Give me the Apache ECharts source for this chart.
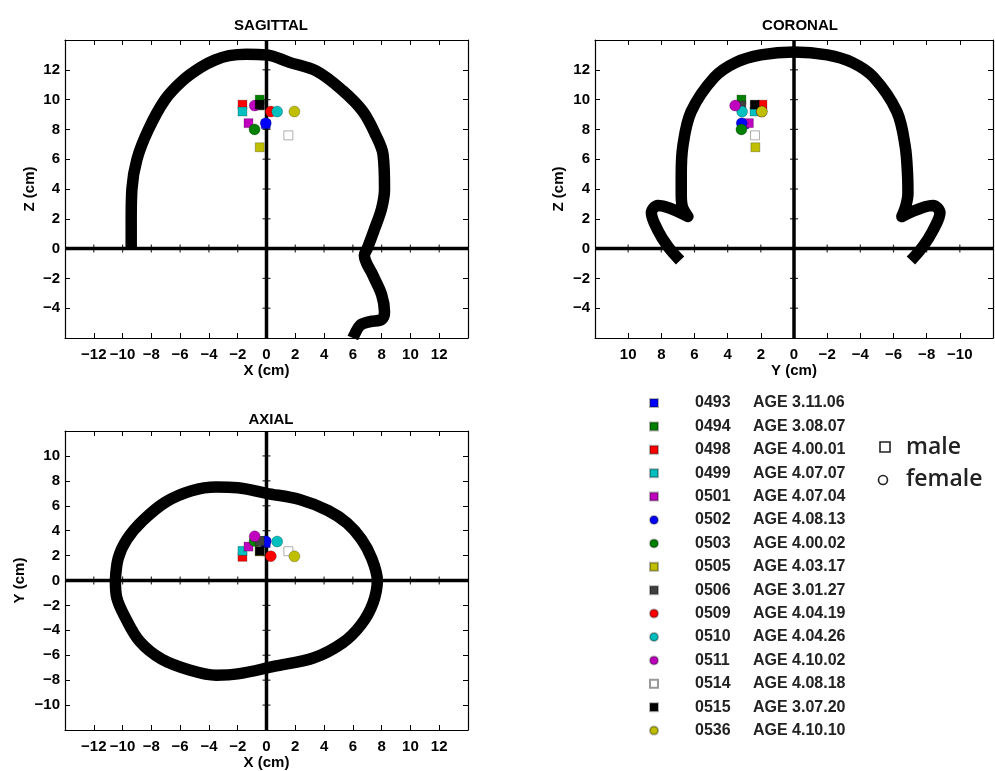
<!DOCTYPE html>
<html>
<head>
<meta charset="utf-8">
<script src="https://cdn.jsdelivr.net/npm/echarts@6/dist/echarts.min.js"></script>
<style>html,body{margin:0;padding:0;background:#fff}#c{width:995px;height:771px}</style>
</head>
<body>
<div id="c"></div>
<script>
// ---------------- DATA ----------------
const subjectIds  = ['0493','0494','0498','0499','0501','0502','0503','0505','0506','0509','0510','0511','0514','0515','0536'];
const subjectAges = ['3.11.06','3.08.07','4.00.01','4.07.07','4.07.04','4.08.13','4.00.02','4.03.17','3.01.27','4.04.19','4.04.26','4.10.02','4.08.18','3.07.20','4.10.10'];
const subjectSex  = ['male','male','male','male','male','female','female','male','male','female','female','female','male','male','female'];
// dipole locations (cm)
const dipoleX = [-0.05,-0.47,-1.67,-1.67,-1.25,-0.05,-0.83,-0.47,-0.47, 0.30, 0.74,-0.82, 1.52,-0.47, 1.94];
const dipoleY = [ 3.00, 3.17, 1.90, 2.38, 2.72, 3.15, 3.17, 2.33, 3.17, 1.95, 3.13, 3.55, 2.35, 2.37, 1.94];
const dipoleZ = [ 8.35,10.00, 9.66, 9.20, 8.42, 8.42, 8.00, 6.80, 9.60, 9.20, 9.20, 9.60, 7.60, 9.66, 9.20];

// head outlines (cm)
const sagittalOutline = [[-9.4,0],[-9.4,2],[-9.35,4],[-9.0,6],[-8.2,8],[-7.05,10],[-5.8,11.3],[-4.6,12.15],[-3.6,12.65],[-2.6,12.95],[-1.4,13.05],[0,13.0],[1.6,12.5],[3.5,11.9],[5.3,10.6],[6.7,9.2],[7.6,7.6],[8.1,6.3],[8.2,4],[8.0,2.7],[7.5,1.3],[7.0,0],[6.8,-0.45],[7.4,-1.8],[8.0,-3.1],[8.2,-4.25],[8.0,-4.75],[7.2,-4.9],[6.5,-5.15],[6.1,-5.8],[6.0,-6.0]];
const coronalOutline = [[6.87,-0.8],[7.6,0.13],[8.2,1.2],[8.6,2.4],[8.2,2.9],[6.4,2.15],[6.75,2.9],[6.8,3.7],[6.8,4.9],[6.7,6.9],[6.2,9.2],[4.8,11.5],[3.5,12.5],[2.0,13.0],[0,13.2],[-2.0,13.0],[-3.5,12.5],[-4.8,11.5],[-6.2,9.2],[-6.7,6.9],[-6.85,4.9],[-6.87,3.7],[-6.75,2.9],[-6.5,2.15],[-8.37,2.9],[-8.8,2.4],[-8.37,1.2],[-7.77,0.13],[-7.05,-0.8]];
const axialOutline = [[-10.5,0],[-10.3,1.8],[-9.7,3.3],[-8.6,4.8],[-7.0,6.3],[-5.2,7.2],[-3.5,7.5],[-2.0,7.45],[0,7.0],[2.3,6.5],[4.3,5.6],[5.6,4.6],[6.6,3.3],[7.3,1.8],[7.7,0],[7.4,-1.8],[6.6,-3.5],[5.3,-5.0],[3.3,-6.2],[0.5,-6.9],[-2.0,-7.5],[-3.5,-7.6],[-5.3,-7.2],[-7.3,-6.3],[-8.8,-4.9],[-9.8,-3.0],[-10.4,-1.4],[-10.5,0]];

// axis ranges and tick step
const sagXRange = [-14, 14], sagZRange = [-6, 14];
const corYRange = [-12, 12], corZRange = [-6, 14];
const axXRange  = [-14, 14], axYRange  = [-12, 12];
const tickStep = 2;

// ---------------- STYLE ----------------
const subjectColors = ['#0000ff','#008000','#ff0000','#00bfbf','#bf00bf','#0000ff','#008000','#bfbf00','#404040','#ff0000','#00bfbf','#bf00bf','#ffffff','#000000','#bfbf00'];
const FONT = 'Liberation Sans';
const minus = v => String(v).replace('-', '\u2212');

const grids = [
  {left: 65,  top: 40,  width: 403, height: 298},
  {left: 595, top: 40,  width: 398, height: 298},
  {left: 65,  top: 431, width: 403, height: 300}
];
const ranges = [[sagXRange, sagZRange],[corYRange, corZRange],[axXRange, axYRange]];
const names = [['X (cm)','Z (cm)'],['Y (cm)','Z (cm)'],['X (cm)','Y (cm)']];
const yNameGap = [28, 29, 38];

function ticks(r){ const out=[]; for(let v=r[0]+tickStep; v<r[1]; v+=tickStep) out.push(v); return out; }

const axisCommon = {
  type: 'value', interval: tickStep, splitLine: {show: false},
  axisLine: {show: true, onZero: false, lineStyle: {color: '#000', width: 1.2}},
  axisTick: {show: true, inside: true, length: 5, lineStyle: {color: '#000', width: 1}}
};
const labelStyle = {fontFamily: FONT, fontWeight: 'bold', fontSize: 15, color: '#000', showMinLabel: false, showMaxLabel: false, formatter: minus};
const nameStyle = {fontFamily: FONT, fontWeight: 'bold', fontSize: 15, color: '#000'};

const xAxes = [], yAxes = [];
grids.forEach((g, gi) => {
  const [xr, yr] = ranges[gi];
  const inv = gi === 1;
  xAxes.push(Object.assign({}, axisCommon, {gridIndex: gi, position: 'bottom', min: xr[0], max: xr[1], inverse: inv,
    axisLabel: Object.assign({margin: 9}, labelStyle), name: names[gi][0], nameLocation: 'middle', nameGap: 25, nameTextStyle: nameStyle}));
  xAxes.push(Object.assign({}, axisCommon, {gridIndex: gi, position: 'top', min: xr[0], max: xr[1], inverse: inv, axisLabel: {show: false}}));
  yAxes.push(Object.assign({}, axisCommon, {gridIndex: gi, position: 'left', min: yr[0], max: yr[1],
    axisLabel: Object.assign({margin: 5}, labelStyle), name: names[gi][1], nameLocation: 'middle', nameGap: yNameGap[gi], nameTextStyle: nameStyle}));
  yAxes.push(Object.assign({}, axisCommon, {gridIndex: gi, position: 'right', min: yr[0], max: yr[1], axisLabel: {show: false}}));
});

const outlines = [sagittalOutline, coronalOutline, axialOutline];
const series = [];
grids.forEach((g, gi) => {
  const [xr, yr] = ranges[gi];
  const ax = {xAxisIndex: 2*gi, yAxisIndex: 2*gi};
  // zero lines
  series.push(Object.assign({type: 'line', data: [[xr[0],0],[xr[1],0]], showSymbol: false, silent: true, z: 3,
    lineStyle: {color: '#000', width: 3.5}}, ax));
  series.push(Object.assign({type: 'line', data: [[0,yr[0]],[0,yr[1]]], showSymbol: false, silent: true, z: 3,
    lineStyle: {color: '#000', width: 3.5}}, ax));
  // ticks on zero lines
  series.push(Object.assign({type: 'scatter', data: ticks(xr).map(t => [t, 0]), symbol: 'rect', symbolSize: [1.2, 8], silent: true, z: 3,
    itemStyle: {color: '#000'}}, ax));
  series.push(Object.assign({type: 'scatter', data: ticks(yr).map(t => [0, t]), symbol: 'rect', symbolSize: [8, 1.2], silent: true, z: 3,
    itemStyle: {color: '#000'}}, ax));
  // head outline
  series.push(Object.assign({type: 'line', data: outlines[gi], showSymbol: false, silent: true, z: 4, smooth: 0.35,
    lineStyle: {color: '#000', width: 11.5, join: 'round', cap: 'butt'}}, ax));
  // dipoles
  subjectIds.forEach((id, i) => {
    const coords = [[dipoleX[i], dipoleZ[i]], [dipoleY[i], dipoleZ[i]], [dipoleX[i], dipoleY[i]]][gi];
    const male = subjectSex[i] === 'male';
    series.push(Object.assign({type: 'scatter', name: id, data: [coords], z: 10,
      symbol: male ? 'rect' : 'circle', symbolSize: male ? 9 : 11,
      itemStyle: {color: subjectColors[i], borderColor: subjectColors[i] === '#ffffff' ? '#999' : 'rgba(0,0,0,0.3)', borderWidth: 0.8, opacity: 1}}, ax));
  });
});

const chart = echarts.init(document.getElementById('c'), null, {renderer: 'canvas'});
chart.setOption({
  backgroundColor: '#fff',
  animation: false,
  title: [
    {text: 'SAGITTAL', left: 266, top: 13, textAlign: 'center', textStyle: {fontFamily: FONT, fontWeight: 'bold', fontSize: 15, color: '#000'}},
    {text: 'CORONAL', left: 795, top: 13, textAlign: 'center', textStyle: {fontFamily: FONT, fontWeight: 'bold', fontSize: 15, color: '#000'}},
    {text: 'AXIAL', left: 266, top: 407, textAlign: 'center', textStyle: {fontFamily: FONT, fontWeight: 'bold', fontSize: 15, color: '#000'}}
  ],
  grid: grids,
  xAxis: xAxes,
  yAxis: yAxes,
  legend: {
    left: 644, top: 390, orient: 'vertical', itemWidth: 8, itemHeight: 8, itemGap: 7.4, selectedMode: false,
    data: subjectIds.map((id, i) => ({name: id, icon: subjectSex[i] === 'male' ? 'rect' : 'circle'})),
    formatter: name => `{sp|}{id|${name}}{age|AGE ${subjectAges[subjectIds.indexOf(name)]}}`,
    textStyle: {
      lineHeight: 16,
      rich: {
        sp: {width: 32},
        id: {width: 58, fontFamily: FONT, fontWeight: 'bold', fontSize: 16, color: '#222', lineHeight: 16},
        age: {fontFamily: FONT, fontWeight: 'bold', fontSize: 16, color: '#222', lineHeight: 16}
      }
    }
  },
  graphic: [
    {type: 'rect', shape: {x: 880, y: 442, width: 10, height: 10}, style: {fill: 'none', stroke: '#222', lineWidth: 1.6}},
    {type: 'circle', shape: {cx: 883, cy: 480, r: 4.5}, style: {fill: 'none', stroke: '#222', lineWidth: 1.6}},
    {type: 'text', x: 906, y: 447, style: {text: 'male', font: '600 23px "Open Sans"', fill: '#222', verticalAlign: 'middle'}},
    {type: 'text', x: 906, y: 479, style: {text: 'female', font: '600 23px "Open Sans"', fill: '#222', verticalAlign: 'middle'}}
  ],
  series: series
});
</script>
</body>
</html>
